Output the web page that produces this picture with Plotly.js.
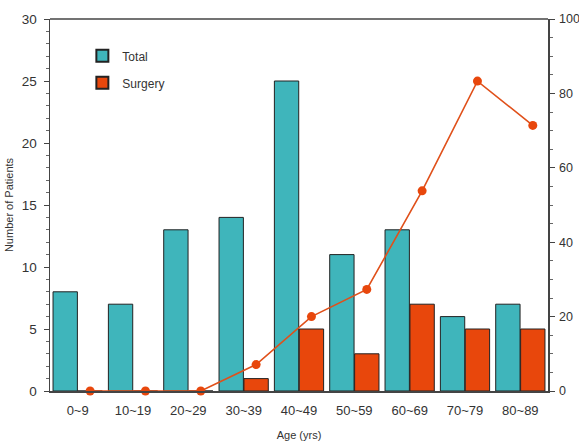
<!DOCTYPE html>
<html><head><meta charset="utf-8">
<script src="https://cdn.plot.ly/plotly-3.0.1.min.js"></script>
<style>html,body{margin:0;padding:0;background:#fff}#c{width:579px;height:441px}</style>
</head><body><div id="c"></div>
<script>
var categories = ["0~9","10~19","20~29","30~39","40~49","50~59","60~69","70~79","80~89"];
var totalPatients = [8,7,13,14,25,11,13,6,7];
var surgeryPatients = [0,0,0,1,5,3,7,5,5];
var surgeryPercent = [0,0,0,7.1,20,27.3,53.8,83.3,71.4];

var idx = categories.map(function(_, i){ return i; });
var barOffset = 0.225;
var teal = '#3FB5BB', orange = '#E8470C';

var traces = [
  {type:'bar', name:'Total', legendgroup:'a', x: idx, y: totalPatients, width:0.44, offset:-0.445,
   marker:{color:teal, line:{color:'#222', width:1}}},
  {type:'bar', name:'Surgery', legendgroup:'b', x: idx, y: surgeryPatients, width:0.44, offset:0.005,
   marker:{color:orange, line:{color:'#222', width:1}}},
  {type:'scatter', mode:'lines+markers', name:'pct', showlegend:false,
   x: idx.map(function(i){ return i + barOffset; }), y: surgeryPercent, yaxis:'y2',
   line:{color:'#E0501A', width:1.6}, marker:{color:orange, size:9}, cliponaxis:false}
];

var layout = {
  width:579, height:441,
  margin:{l:50, r:31, t:19, b:50},
  paper_bgcolor:'#fff', plot_bgcolor:'#fff',
  font:{family:'Liberation Sans, Arial, sans-serif', color:'#333', size:13},
  barmode:'overlay',
  showlegend:true,
  legend:{x:0.065, y:0.94, xanchor:'left', yanchor:'top', bgcolor:'rgba(0,0,0,0)',
          font:{size:12, color:'#333'}, tracegroupgap:8, itemsizing:'constant'},
  xaxis:{range:[-0.5, 8.5], tickvals: idx, ticktext: categories, showgrid:false, zeroline:false,
         showline:true, linecolor:'#444', linewidth:1.5, ticks:'', mirror:false,
         tickfont:{size:13}, ticklabelstandoff:7, fixedrange:true,
         title:{text:'Age (yrs)', font:{size:11}, standoff:14}},
  yaxis:{range:[0,30], dtick:5, showgrid:false, zeroline:false, showline:true, linecolor:'#444',
         linewidth:1.5, ticks:'outside', ticklen:5, tickcolor:'#444', ticklabelstandoff:4,
         minor:{dtick:1, ticks:'outside', ticklen:3, tickcolor:'#666'},
         tickfont:{size:13.5}, title:{text:'Number of Patients', font:{size:11}, standoff:6}},
  yaxis2:{range:[0,100], dtick:20, overlaying:'y', side:'right', showgrid:false, zeroline:false,
          showline:true, linecolor:'#444', linewidth:1.5, ticks:'outside', ticklen:5, tickcolor:'#444',
          ticklabelstandoff:2,
          minor:{dtick:5, ticks:'outside', ticklen:3, tickcolor:'#666'},
          tickfont:{size:12.5}},
  shapes:[{type:'line', xref:'paper', yref:'paper', x0:0, x1:1, y0:1, y1:1,
           line:{color:'#444', width:1.5}}]
};

Plotly.newPlot('c', traces, layout, {displayModeBar:false, staticPlot:true});
</script></body></html>
